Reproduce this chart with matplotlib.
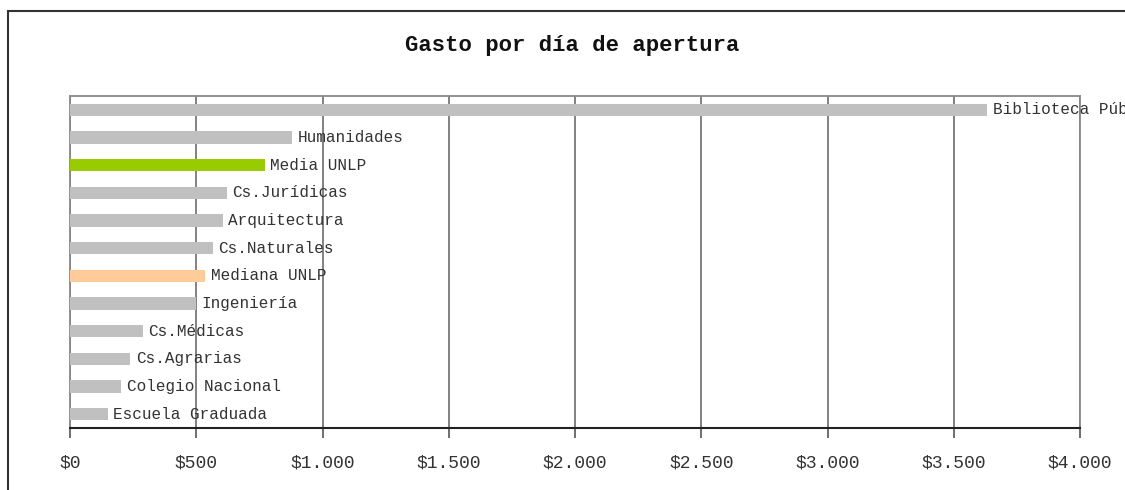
import matplotlib
matplotlib.use("Agg")
import matplotlib.pyplot as plt
from matplotlib.patches import Rectangle

categories = ["Biblioteca Pública", "Humanidades", "Media UNLP", "Cs.Jurídicas",
              "Arquitectura", "Cs.Naturales", "Mediana UNLP", "Ingeniería",
              "Cs.Médicas", "Cs.Agrarias", "Colegio Nacional", "Escuela Graduada"]
values = [3632, 879, 772, 620, 605, 565, 535, 499, 288, 238, 202, 149]
colors = ["#C0C0C0", "#C0C0C0", "#99CC00", "#C0C0C0", "#C0C0C0", "#C0C0C0",
          "#FFCC99", "#C0C0C0", "#C0C0C0", "#C0C0C0", "#C0C0C0", "#C0C0C0"]
xticks = [0, 500, 1000, 1500, 2000, 2500, 3000, 3500, 4000]
xticklabels = ["$0", "$500", "$1.000", "$1.500", "$2.000", "$2.500", "$3.000", "$3.500", "$4.000"]

FONT = "Liberation Mono"

fig = plt.figure(figsize=(11.25, 4.9), dpi=100)
# outer frame
fig.patches.append(Rectangle((8 / 1125, -0.1), 1.2, 1 - 11 / 490 + 0.1,
                             transform=fig.transFigure, fill=False,
                             edgecolor="#333333", linewidth=1.5))

ax = fig.add_axes([70 / 1125, 1 - 428 / 490, 1010 / 1125, 332 / 490])
y = list(range(len(categories)))
ax.barh(y, values, height=0.44, color=colors, zorder=3)
ax.set_ylim(len(categories) - 0.5, -0.5)
ax.set_xlim(0, 4000)

for yi, v, c in zip(y, values, categories):
    ax.annotate(c, (v, yi), xytext=(4, 0), textcoords="offset points",
                va="center", ha="left", fontsize=11.5, family=FONT,
                color="#333333", annotation_clip=False, zorder=4)

ax.set_xticks(xticks)
ax.set_xticklabels(xticklabels, family=FONT, fontsize=13, color="#333333")
ax.tick_params(axis="x", direction="out", length=7, width=1.2, color="#555555", pad=12)
ax.set_yticks([])
ax.grid(axis="x", color="#777777", linewidth=1.3, zorder=1)
for s in ["top", "left", "right"]:
    ax.spines[s].set_color("#888888")
    ax.spines[s].set_linewidth(1.3)
ax.spines["bottom"].set_color("#222222")
ax.spines["bottom"].set_linewidth(1.5)

fig.text(572 / 1125, 1 - 45 / 490, "Gasto por día de apertura", ha="center", va="center",
         family=FONT, fontsize=16, fontweight="bold", color="#111111")

fig.savefig("out.png", dpi=100)
